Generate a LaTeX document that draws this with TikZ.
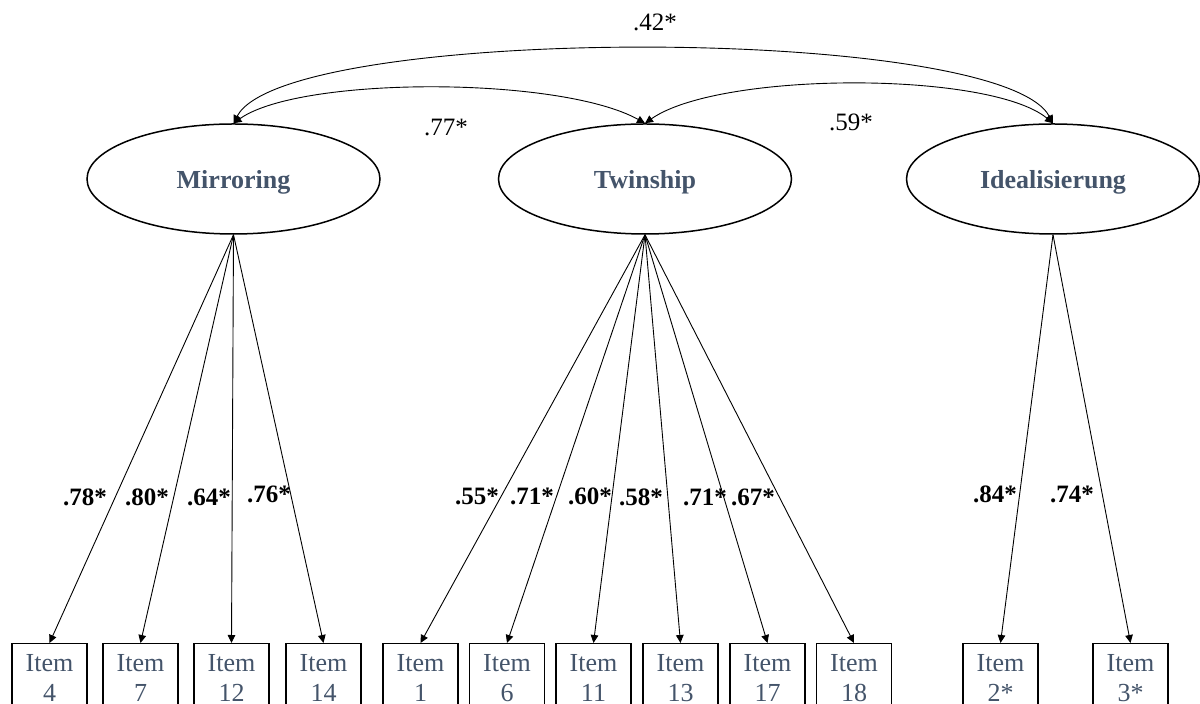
\documentclass[tikz,border=0pt]{standalone}
\usepackage{fontspec}
\setmainfont{Liberation Serif}
\usetikzlibrary{shapes.geometric,arrows.meta}
\definecolor{labelblue}{HTML}{44546A}
\newcommand{\lowerstrut}{\rule{0pt}{12.5pt}}
\begin{document}
\begin{tikzpicture}[x=0.5pt,y=-0.5pt,
  latent/.style={ellipse,draw,line width=0.75pt,minimum width=146.5pt,minimum height=55pt,
    inner sep=0pt,text=labelblue,font=\fontsize{13}{15}\selectfont\bfseries},
  itembox/.style={rectangle,draw,line width=0.75pt,minimum width=37.5pt,minimum height=34pt,
    inner sep=0pt,anchor=north,align=center,text=labelblue,font=\fontsize{13}{15}\selectfont},
  tip/.tip={Triangle[length=4pt,width=3.8pt]},
  load/.style={-tip,line width=0.45pt},
  corr/.style={tip-tip,line width=0.45pt},
  lw/.style={font=\fontsize{12.5}{14}\selectfont\bfseries},
  cw/.style={font=\fontsize{12.5}{14}\selectfont}
]
\useasboundingbox (0,0) rectangle (1200,704);
\clip (0,0) rectangle (1200,704);

% latent factors
\node[latent] (mir) at (233.5,179) {\lowerstrut Mirroring};
\node[latent] (twi) at (645,179) {\lowerstrut Twinship};
\node[latent] (ide) at (1053,179) {\lowerstrut Idealisierung};

% indicators
\node[itembox] (i4)  at (49.5,643)  {Item\\4};
\node[itembox] (i7)  at (140.5,643) {Item\\7};
\node[itembox] (i12) at (231.5,643) {Item\\12};
\node[itembox] (i14) at (323.5,643) {Item\\14};
\node[itembox] (i1)  at (420.5,643) {Item\\1};
\node[itembox] (i6)  at (507,643)   {Item\\6};
\node[itembox] (i11) at (593.5,643) {Item\\11};
\node[itembox] (i13) at (680.5,643) {Item\\13};
\node[itembox] (i17) at (767.5,643) {Item\\17};
\node[itembox] (i18) at (854,643)   {Item\\18};
\node[itembox] (i2)  at (1000.5,643) {Item\\2*};
\node[itembox] (i3)  at (1130.5,643) {Item\\3*};

% factor loadings
\foreach \t in {i4,i7,i12,i14} \draw[load] (mir.south) -- (\t.north);
\foreach \t in {i1,i6,i11,i13,i17,i18} \draw[load] (twi.south) -- (\t.north);
\foreach \t in {i2,i3} \draw[load] (ide.south) -- (\t.north);

\node[lw] (l4)  at (85,497)  {.78*};
\node[lw] (l7)  at (147,497) {.80*};
\node[lw] (l12) at (209,497) {.64*};
\node[lw] (l14) at (269,494) {.76*};
\node[lw] (l1)  at (477,496) {.55*};
\node[lw] (l6)  at (532,496) {.71*};
\node[lw] (l11) at (590,496) {.60*};
\node[lw] (l13) at (641,497) {.58*};
\node[lw] (l17) at (705,497) {.71*};
\node[lw] (l18) at (753,497) {.67*};
\node[lw] (l2)  at (995,494) {.84*};
\node[lw] (l3)  at (1072,494) {.74*};

% factor correlations
\draw[corr] (mir.north) .. controls (285,24) and (1000,24) .. (ide.north);
\draw[corr] (mir.north) .. controls (300,76) and (560,76) .. (twi.north);
\draw[corr] (twi.north) .. controls (720,71) and (990,71) .. (ide.north);

\node[cw] (c42) at (655,22)  {.42*};
\node[cw] (c77) at (446,128) {.77*};
\node[cw] (c59) at (851,122) {.59*};
\end{tikzpicture}
\end{document}
